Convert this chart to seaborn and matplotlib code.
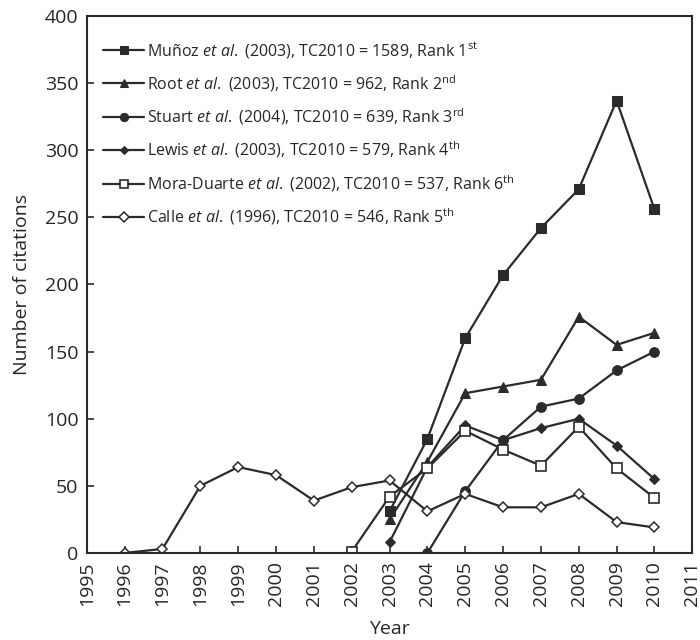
import matplotlib
matplotlib.use("Agg")
import matplotlib.pyplot as plt
import seaborn as sns
import pandas as pd

sns.set_style("ticks")
plt.rcParams['font.family'] = ['Open Sans', 'DejaVu Sans']
plt.rcParams['mathtext.fontset'] = 'custom'
plt.rcParams['mathtext.rm'] = 'Open Sans'
plt.rcParams['mathtext.it'] = 'Open Sans:italic'

years_munoz = [2003, 2004, 2005, 2006, 2007, 2008, 2009, 2010]
munoz = [31, 85, 160, 207, 242, 271, 337, 256]
years_root = [2003, 2004, 2005, 2006, 2007, 2008, 2009, 2010]
root = [25, 68, 119, 124, 129, 176, 155, 164]
years_stuart = [2004, 2005, 2006, 2007, 2008, 2009, 2010]
stuart = [0, 46, 84, 109, 115, 136, 150]
years_lewis = [2003, 2004, 2005, 2006, 2007, 2008, 2009, 2010]
lewis = [8, 64, 95, 84, 93, 100, 80, 55]
years_mora = [2002, 2003, 2004, 2005, 2006, 2007, 2008, 2009, 2010]
mora = [1, 42, 63, 91, 77, 65, 94, 63, 41]
years_calle = [1996, 1997, 1998, 1999, 2000, 2001, 2002, 2003, 2004, 2005, 2006, 2007, 2008, 2009, 2010]
calle = [0, 3, 50, 64, 58, 39, 49, 54, 31, 44, 34, 34, 44, 23, 19]

labels = [
    r"Muñoz $\it{et\ al.}$ (2003), TC2010 = 1589, Rank 1$^{\rm st}$",
    r"Root $\it{et\ al.}$ (2003), TC2010 = 962, Rank 2$^{\rm nd}$",
    r"Stuart $\it{et\ al.}$ (2004), TC2010 = 639, Rank 3$^{\rm rd}$",
    r"Lewis $\it{et\ al.}$ (2003), TC2010 = 579, Rank 4$^{\rm th}$",
    r"Mora-Duarte $\it{et\ al.}$ (2002), TC2010 = 537, Rank 6$^{\rm th}$",
    r"Calle $\it{et\ al.}$ (1996), TC2010 = 546, Rank 5$^{\rm th}$",
]

col = "#2b2b2b"
series = [
    (years_munoz, munoz, dict(marker='s', markersize=6.5, markerfacecolor=col)),
    (years_root, root, dict(marker='^', markersize=6.8, markerfacecolor=col)),
    (years_stuart, stuart, dict(marker='o', markersize=7, markerfacecolor=col)),
    (years_lewis, lewis, dict(marker='D', markersize=5, markerfacecolor=col)),
    (years_mora, mora, dict(marker='s', markersize=6.5, markerfacecolor='white', markeredgewidth=1.2)),
    (years_calle, calle, dict(marker='D', markersize=5.5, markerfacecolor='white', markeredgewidth=1.1)),
]

fig = plt.figure(figsize=(7, 6.4), dpi=100)
ax = fig.add_axes([0.124, 0.136, 0.865, 0.839])

for (x, y, kw), lab in zip(series, labels):
    df = pd.DataFrame({"Year": x, "Citations": y})
    sns.lineplot(data=df, x="Year", y="Citations", ax=ax, color=col, linewidth=1.6,
                 markeredgecolor=col, label=lab, **kw)

ax.set_xlim(1995, 2011)
ax.set_ylim(0, 400)
ax.set_xticks(range(1995, 2012))
ax.set_xticklabels([str(v) for v in range(1995, 2012)], rotation=90, fontsize=14)
ax.set_yticks(range(0, 401, 50))
ax.set_yticklabels([str(v) for v in range(0, 401, 50)], fontsize=14)
ax.tick_params(direction='in', length=5, width=1.2, color=col, pad=6)
for s in ax.spines.values():
    s.set_linewidth(1.5)
    s.set_color(col)
ax.set_xlabel("Year", fontsize=14, labelpad=10)
ax.set_ylabel("Number of citations", fontsize=14, labelpad=10)

leg = ax.legend(loc='upper left', frameon=False, fontsize=11.5, handlelength=2.6,
                handletextpad=0.2, labelspacing=0.8, borderaxespad=0.6,
                bbox_to_anchor=(0.0, 0.985), markerscale=0.85)

fig.savefig("out.png", dpi=100)
